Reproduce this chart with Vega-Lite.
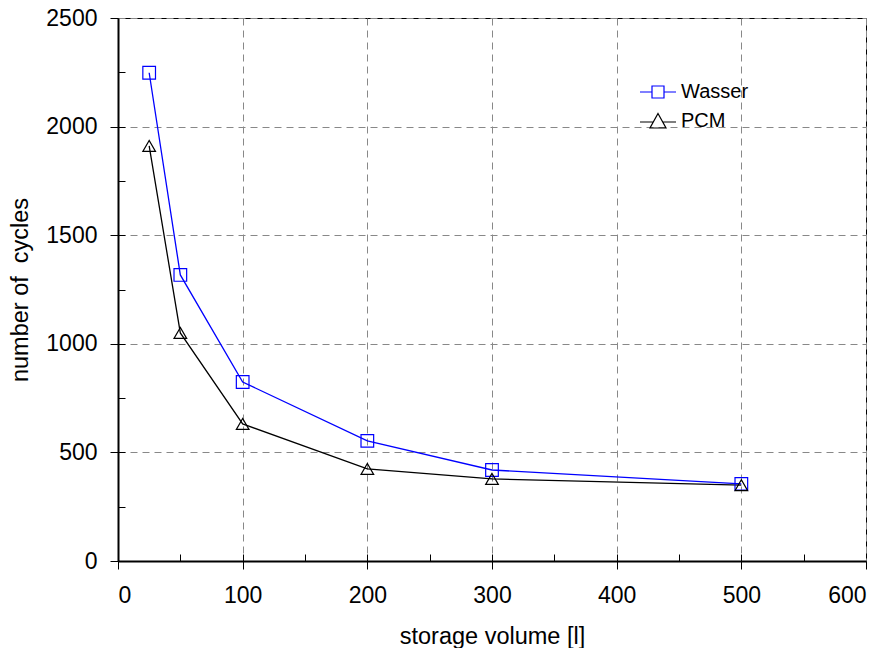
{
  "$schema": "https://vega.github.io/schema/vega-lite/v6.json",
  "width": 748,
  "height": 543,
  "autosize": {"type": "none"},
  "padding": {"left": 118, "top": 18, "right": 23, "bottom": 87},
  "background": "white",
  "config": {
    "font": "Liberation Sans",
    "view": {"stroke": "#000000", "strokeWidth": 1}
  },
  "data": {"values": [
    {"volume": 25, "cycles": 2248, "medium": "Wasser"},
    {"volume": 50, "cycles": 1317, "medium": "Wasser"},
    {"volume": 100, "cycles": 824, "medium": "Wasser"},
    {"volume": 200, "cycles": 553, "medium": "Wasser"},
    {"volume": 300, "cycles": 419, "medium": "Wasser"},
    {"volume": 500, "cycles": 355, "medium": "Wasser"},
    {"volume": 25, "cycles": 1911, "medium": "PCM"},
    {"volume": 50, "cycles": 1050, "medium": "PCM"},
    {"volume": 100, "cycles": 631, "medium": "PCM"},
    {"volume": 200, "cycles": 424, "medium": "PCM"},
    {"volume": 300, "cycles": 378, "medium": "PCM"},
    {"volume": 500, "cycles": 349, "medium": "PCM"}
  ]},
  "resolve": {"axis": {"x": "independent", "y": "independent"}, "scale": {"shape": "independent", "color": "independent"}},
  "layer": [
    {
      "mark": {"type": "line", "strokeWidth": 1.3},
      "encoding": {
        "x": {"field": "volume", "type": "quantitative", "scale": {"domain": [0, 600], "nice": false},
          "axis": {"orient": "bottom", "values": [0, 100, 200, 300, 400, 500, 600], "format": "d", "title": "storage volume [l]", "grid": true, "gridColor": "#888", "gridDash": [7, 5], "gridWidth": 1, "tickSize": 8, "tickColor": "#000", "domainColor": "#000", "labelPadding": 15, "titlePadding": 17, "domainWidth": 2, "labelFont": "Liberation Sans", "labelFontSize": 23, "labelColor": "#000", "titleFont": "Liberation Sans", "titleFontSize": 23.5, "titleFontWeight": "normal", "titleColor": "#000"}},
        "y": {"field": "cycles", "type": "quantitative", "scale": {"domain": [0, 2500], "nice": false},
          "axis": {"orient": "left", "values": [0, 500, 1000, 1500, 2000, 2500], "format": "d", "title": "number of\u00a0 cycles", "grid": true, "gridColor": "#888", "gridDash": [7, 5], "gridWidth": 1, "tickSize": 8, "tickColor": "#000", "domainColor": "#000", "labelPadding": 13, "titlePadding": 13, "domainWidth": 2, "labelFont": "Liberation Sans", "labelFontSize": 23, "labelColor": "#000", "titleFont": "Liberation Sans", "titleFontSize": 23.5, "titleFontWeight": "normal", "titleColor": "#000"}},
        "color": {"field": "medium", "type": "nominal", "scale": {"domain": ["Wasser", "PCM"], "range": ["#0000ff", "#000000"]}, "legend": null},
        "detail": {"field": "medium"}
      }
    },
    {
      "mark": {"type": "point", "filled": false, "strokeWidth": 1.2, "opacity": 1},
      "encoding": {
        "x": {"field": "volume", "type": "quantitative",
          "axis": {"orient": "bottom", "values": [50, 100, 150, 200, 250, 300, 350, 400, 450, 500, 550], "title": null, "labels": false, "domain": false, "grid": false, "tickSize": -7, "tickColor": "#000"}},
        "y": {"field": "cycles", "type": "quantitative",
          "axis": {"orient": "left", "values": [250, 500, 750, 1000, 1250, 1500, 1750, 2000, 2250], "title": null, "labels": false, "domain": false, "grid": false, "tickSize": -7, "tickColor": "#000"}},
        "color": {"field": "medium", "type": "nominal", "scale": {"domain": ["Wasser", "PCM"], "range": ["#0000ff", "#000000"]}, "legend": null},
        "shape": {"field": "medium", "type": "nominal", "scale": {"domain": ["Wasser", "PCM"], "range": ["square", "triangle-up"]}, "legend": null},
        "size": {"value": 160}
      }
    },
    {
      "transform": [{"filter": "datum.volume < 0"}],
      "mark": {"type": "point", "filled": false, "strokeWidth": 1.2, "opacity": 1},
      "encoding": {
        "x": {"field": "volume", "type": "quantitative", "axis": null},
        "y": {"field": "cycles", "type": "quantitative", "axis": null},
        "color": {"field": "medium", "type": "nominal", "scale": {"domain": ["Wasser", "PCM"], "range": ["#0000ff", "#000000"]},
          "legend": {"orient": "none", "legendX": 529, "legendY": 63, "title": null, "padding": 0, "symbolSize": 400, "symbolStrokeWidth": 1.2, "labelFontSize": 20, "labelFont": "Liberation Sans", "labelColor": "#000", "labelOffset": 12, "rowPadding": 8}},
        "shape": {"field": "medium", "type": "nominal", "scale": {"domain": ["Wasser", "PCM"], "range": ["M-1.8,0H-0.6M0.6,0H1.8M-0.6,-0.6H0.6V0.6H-0.6Z", "M-1.8,0.1H-0.45M0.45,0.1H1.8M0,-0.75L0.8,0.7H-0.8Z"]},
          "legend": {"orient": "none", "legendX": 529, "legendY": 63, "title": null, "padding": 0, "symbolSize": 400, "symbolStrokeWidth": 1.2, "labelFontSize": 20, "labelFont": "Liberation Sans", "labelColor": "#000", "labelOffset": 12, "rowPadding": 8}},
        "size": {"value": 160}
      }
    }
  ]
}
